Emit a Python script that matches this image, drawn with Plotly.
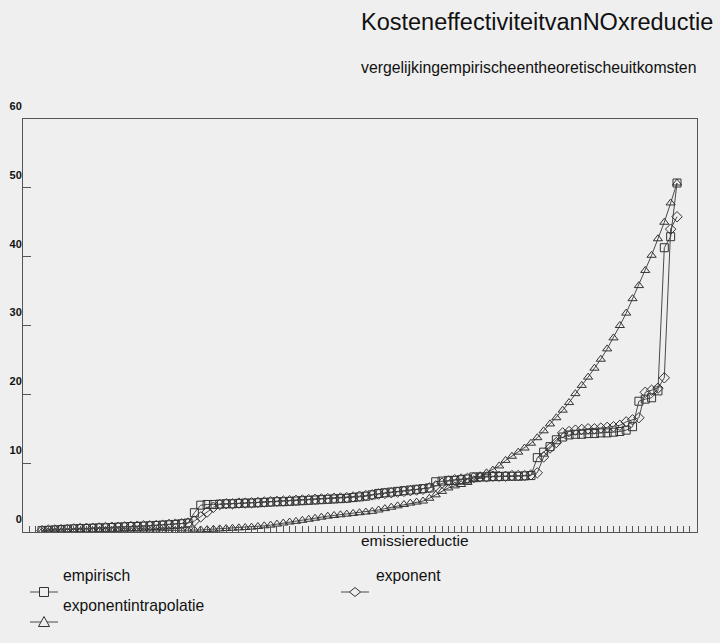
import plotly.graph_objects as go

# Meetpunten langs de emissiereductie-as (categorie-index)
punten = list(range(1, 102))

# Kosten per reductiestap, drie varianten
empirisch = [
    0.2, 0.25, 0.3, 0.35, 0.4, 0.45, 0.5, 0.5, 0.55, 0.6,
    0.6, 0.65, 0.7, 0.75, 0.8, 0.8, 0.85, 0.9, 0.95, 1.0,
    1.05, 1.1, 1.2, 1.3, 2.8, 3.9, 4.0, 4.0, 4.05, 4.1,
    4.1, 4.15, 4.2, 4.2, 4.25, 4.3, 4.35, 4.4, 4.4, 4.45,
    4.5, 4.55, 4.6, 4.65, 4.7, 4.75, 4.8, 4.85, 4.9, 5.0,
    5.1, 5.2, 5.4, 5.6, 5.7, 5.8, 5.9, 6.0, 6.1, 6.2,
    6.3, 6.4, 7.3, 7.4, 7.5, 7.5, 7.6, 7.7, 8.0, 8.0,
    8.0, 8.05, 8.05, 8.1, 8.1, 8.1, 8.15, 8.2, 10.8, 11.6,
    12.4, 13.4, 13.8, 14.1, 14.2, 14.2, 14.3, 14.3, 14.4, 14.4,
    14.5, 14.6, 14.8, 15.3, 19.0, 19.3, 19.5, 20.5, 41.3, 42.9,
    50.7,
]

exponent = [
    0.2, 0.25, 0.3, 0.35, 0.4, 0.45, 0.5, 0.55, 0.55, 0.6,
    0.65, 0.7, 0.7, 0.75, 0.8, 0.85, 0.9, 0.9, 0.95, 1.0,
    1.1, 1.15, 1.2, 1.3, 1.6, 2.2, 2.9, 3.6, 4.0, 4.1,
    4.1, 4.2, 4.2, 4.25, 4.3, 4.35, 4.4, 4.45, 4.5, 4.55,
    4.6, 4.65, 4.7, 4.75, 4.8, 4.85, 4.9, 4.95, 5.0, 5.1,
    5.2, 5.3, 5.4, 5.5, 5.6, 5.7, 5.8, 5.9, 6.0, 6.1,
    6.2, 6.4, 6.7, 7.1, 7.4, 7.6, 7.7, 7.8, 7.9, 8.0,
    8.0, 8.1, 8.1, 8.1, 8.2, 8.2, 8.2, 8.3, 8.6, 10.9,
    12.2, 13.0, 14.4, 14.6, 14.8, 14.9, 15.0, 15.0, 15.1, 15.2,
    15.3, 15.5, 16.0, 16.3, 16.6, 20.3, 20.6, 20.9, 22.4, 44.0,
    45.8,
]

exponentintrapolatie = [
    0.05, 0.05, 0.05, 0.05, 0.05, 0.05, 0.05, 0.05, 0.1, 0.1,
    0.1, 0.1, 0.1, 0.1, 0.1, 0.15, 0.15, 0.15, 0.15, 0.2,
    0.2, 0.2, 0.25, 0.25, 0.3, 0.3, 0.35, 0.4, 0.45, 0.5,
    0.55, 0.6, 0.65, 0.7, 0.8, 0.9, 1.0, 1.15, 1.3, 1.45,
    1.55, 1.7, 1.85, 2.0, 2.15, 2.3, 2.4, 2.5, 2.6, 2.7,
    2.8, 2.9, 3.0, 3.2, 3.4, 3.6, 3.8, 4.0, 4.2, 4.35,
    4.5, 4.9, 5.4, 5.9, 6.4, 6.7, 6.9, 7.2, 7.6, 8.1,
    8.6, 9.0, 9.6, 10.4, 11.0, 11.6, 12.2, 12.9, 13.7, 14.7,
    15.7, 16.6, 17.7, 18.8, 20.1, 21.3, 22.5, 23.8, 25.1, 26.6,
    28.2, 30.0, 31.8, 33.9, 35.8, 38.0, 40.2, 42.6, 45.0, 47.8,
    50.7,
]

y_ticks = [0, 10, 20, 30, 40, 50, 60]
y_ticklabels = ["0", "10", "20", "30", "40", "50", "60"]

W, H = 720, 643
M_L, M_R, M_T, M_B = 23, 23, 119, 111
PLOT_W = W - M_L - M_R
PLOT_H = H - M_T - M_B

LINE_C = "#4a4a4a"
MARK_C = "#333333"
BG = "#efefef"
FONT = "Liberation Sans, Arial, sans-serif"
TEXT_PAD = 3  # annotation text sits a few px right of its anchor


def px_x(px):
    return (px - M_L) / PLOT_W


def px_y(py):
    return (H - M_B - py) / PLOT_H


series = [
    ("empirisch", empirisch, "square-open"),
    ("exponentintrapolatie", exponentintrapolatie, "triangle-up-open"),
    ("exponent", exponent, "diamond-open"),
]

fig = go.Figure()
for naam, waarden, symbool in series:
    fig.add_trace(go.Scatter(
        x=punten, y=waarden, name=naam, mode="lines+markers",
        line=dict(color=LINE_C, width=1),
        marker=dict(symbol=symbool, size=8, color=MARK_C,
                    line=dict(color=MARK_C, width=1)),
        showlegend=False,
    ))

fig.update_layout(
    width=W, height=H,
    margin=dict(l=M_L, r=M_R, t=M_T, b=M_B),
    paper_bgcolor=BG, plot_bgcolor=BG,
    font=dict(family=FONT, color="#111111"),
    xaxis=dict(
        range=[-1.99, 104.15], showgrid=False, zeroline=False, automargin=False,
        tickmode="linear", tick0=1, dtick=1, ticks="inside", ticklen=6,
        tickcolor="#555555", tickwidth=1, showticklabels=False,
        showline=True, linecolor="#555555", linewidth=1, mirror=True,
    ),
    yaxis=dict(
        range=[0, 60], showgrid=False, zeroline=False, automargin=False,
        tickmode="array", tickvals=y_ticks,
        ticktext=["<b>{}</b>".format(t) for t in y_ticklabels],
        ticks="inside", ticklen=8, tickcolor="#555555", tickwidth=1,
        ticklabelshift=-13, ticklabelstandoff=-2,
        tickfont=dict(size=11, family="Liberation Sans, Arial, sans-serif", color="#111111"),
        showline=True, linecolor="#555555", linewidth=1, mirror=True,
    ),
)

teksten = [
    ("KosteneffectiviteitvanNOxreductie", 362, 22, 23.5),
    ("vergelijkingempirischeentheoretischeuitkomsten", 362, 67, 15.8),
    ("emissiereductie", 362, 540, 15.5),
    ("empirisch", 64, 575, 15.7),
    ("exponentintrapolatie", 64, 605, 15.7),
    ("exponent", 377, 575, 15.7),
]
annotations = []
for tekst, tx, ty, grootte in teksten:
    annotations.append(dict(
        text=tekst, x=px_x(tx - TEXT_PAD), y=px_y(ty),
        xref="paper", yref="paper", xanchor="left", yanchor="middle",
        showarrow=False, font=dict(size=grootte, family=FONT, color="#111111"),
    ))
fig.update_layout(annotations=annotations)

# Legendasymbolen: lijnstukje met het bijbehorende markersymbool
shapes = []
legend_items = [(44, 592, "square"), (44, 622, "triangle"), (355, 592, "diamond")]
for cx, cy, vorm in legend_items:
    shapes.append(dict(type="line", xref="paper", yref="paper",
                       x0=px_x(cx - 14), x1=px_x(cx + 14), y0=px_y(cy), y1=px_y(cy),
                       line=dict(color=LINE_C, width=1)))
    r = 4.5
    if vorm == "square":
        shapes.append(dict(type="rect", xref="paper", yref="paper",
                           x0=px_x(cx - r), x1=px_x(cx + r),
                           y0=px_y(cy - r), y1=px_y(cy + r),
                           fillcolor=BG, line=dict(color=MARK_C, width=1)))
    elif vorm == "triangle":
        path = "M {} {} L {} {} L {} {} Z".format(
            px_x(cx), px_y(cy - r - 1), px_x(cx - r - 1), px_y(cy + r),
            px_x(cx + r + 1), px_y(cy + r))
        shapes.append(dict(type="path", xref="paper", yref="paper", path=path,
                           fillcolor=BG, line=dict(color=MARK_C, width=1)))
    else:
        path = "M {} {} L {} {} L {} {} L {} {} Z".format(
            px_x(cx), px_y(cy - r), px_x(cx + r + 1), px_y(cy),
            px_x(cx), px_y(cy + r), px_x(cx - r - 1), px_y(cy))
        shapes.append(dict(type="path", xref="paper", yref="paper", path=path,
                           fillcolor=BG, line=dict(color=MARK_C, width=1)))
fig.update_layout(shapes=shapes)

fig.write_html("out.html")
